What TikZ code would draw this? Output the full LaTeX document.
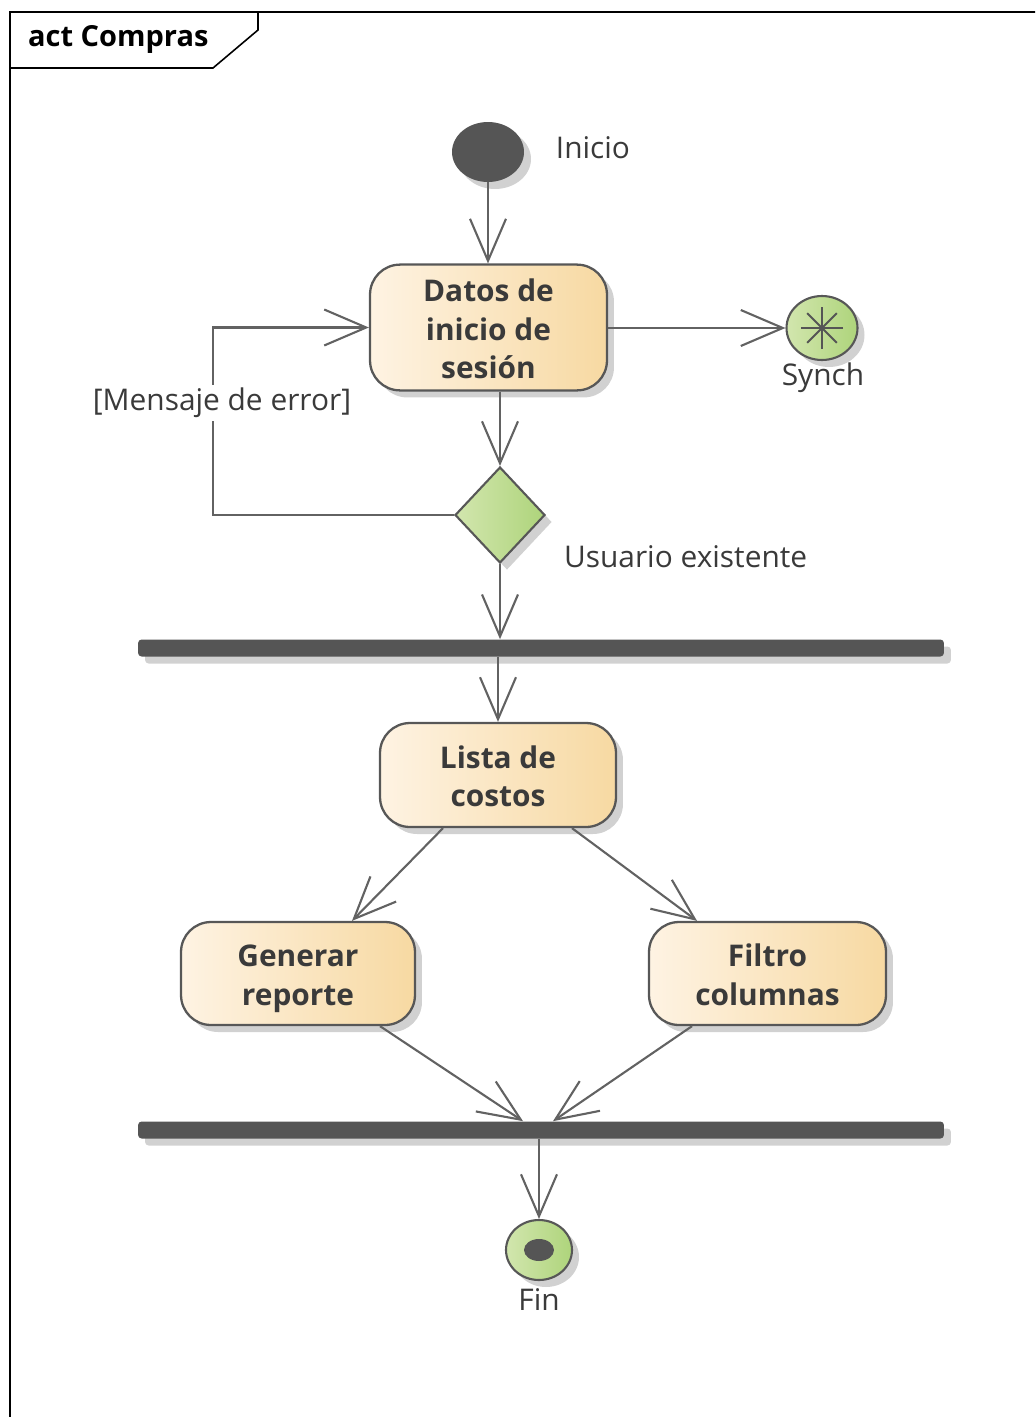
\documentclass[tikz,border=0pt]{standalone}
\usepackage{fontspec}
\setmainfont{Open Sans}
\usetikzlibrary{arrows.meta,shapes.geometric,shadows,positioning}

\definecolor{linegray}{HTML}{626262}
\definecolor{edgegray}{HTML}{575757}
\definecolor{bargray}{HTML}{555555}
\definecolor{textgray}{HTML}{3A3A3A}
\definecolor{actleft}{HTML}{FEF3E3}
\definecolor{actright}{HTML}{F7D9A2}
\definecolor{nodeleft}{HTML}{D2E6AE}
\definecolor{noderight}{HTML}{AED47B}

% taller first line, so the text sits a bit low in the box
\newcommand{\lineaalta}{\rule{0pt}{21pt}}

\tikzset{
  flow/.style={draw=linegray,line width=1.2pt,-{Straight Barb[length=0.84cm,width=0.72cm]}},
  softshadow/.style={drop shadow={shadow xshift=0.14cm,shadow yshift=-0.14cm,opacity=0.18,fill=black}},
  action/.style={draw=edgegray,line width=1.3pt,rounded corners=0.6cm,left color=actleft,right color=actright,
    softshadow,align=center,inner sep=0pt,font=\fontsize{17}{22}\selectfont\bfseries,text=textgray},
  syncbar/.style={fill=bargray,rounded corners=2pt,minimum width=16.12cm,minimum height=0.34cm,inner sep=0pt,softshadow},
  greennode/.style={ellipse,draw=edgegray,line width=1.2pt,left color=nodeleft,right color=noderight,inner sep=0pt,softshadow},
  txt/.style={font=\fontsize{17}{20}\selectfont,text=textgray,inner sep=1pt}
}

\begin{document}
\begin{tikzpicture}[x=0.02cm,y=-0.02cm]
    \useasboundingbox (0,0) rectangle (1035,1417);
    \clip (0,0) rectangle (1035,1417);

    % frame and its name tab
    \draw [black,line width=0.9pt] (10,1440)--(10,12)--(1050,12);
    \draw [black,line width=0.9pt] (10,68)--(213,68)--(258,30)--(258,12);
    \node [font=\fontsize{16.5}{20}\selectfont\bfseries,anchor=west] (titulo) at (22,39) {act Compras};

    % start, actions and the decision
    \node [ellipse,fill=bargray,minimum width=1.44cm,minimum height=1.2cm,inner sep=0pt,softshadow] (inicio) at (488,152) {};
    \node [txt] (inicioTxt) at (593,148) {Inicio};
    \node [action,minimum width=4.74cm,minimum height=2.5cm] (datos) at (488.5,327.5) {\lineaalta Datos de\\inicio de\\sesión\strut};
    \node [greennode,minimum width=1.42cm,minimum height=1.28cm] (synch) at (822,328) {};
    \foreach \a in {0,45,90,135}
        \draw [bargray,line width=1.1pt] ([shift={(\a:0.42cm)}]synch.center)--([shift={(\a+180:0.42cm)}]synch.center);
    \node [txt] (synchTxt) at (823,378) {Synch};
    \node [diamond,draw=edgegray,line width=1.2pt,left color=nodeleft,right color=noderight,
        minimum width=1.8cm,minimum height=1.92cm,inner sep=0pt,softshadow] (dec) at (500,515) {};
    \node [txt,anchor=west] (existe) at (562,557) {Usuario existente};

    % fork, the three actions and the join
    \node [syncbar] (fork) at (541,648) {};
    \node [action,minimum width=4.72cm,minimum height=2.08cm] (lista) at (498,775) {\lineaalta Lista de\\costos\strut};
    \node [action,minimum width=4.68cm,minimum height=2.06cm] (generar) at (298,973.5) {\lineaalta Generar\\reporte\strut};
    \node [action,minimum width=4.74cm,minimum height=2.06cm] (filtro) at (767.5,973.5) {\lineaalta Filtro\\columnas\strut};
    \node [syncbar] (join) at (541,1130) {};

    % final node
    \node [greennode,minimum width=1.32cm,minimum height=1.2cm] (fin) at (539,1250) {};
    \node [ellipse,fill=bargray,minimum width=0.6cm,minimum height=0.44cm,inner sep=0pt] (finDot) at (fin.center) {};
    \node [txt] (finTxt) at (539,1300) {Fin};

    % connectors
    \draw [flow] (inicio.south)--(datos.north -| inicio.south);
    \draw [flow] (datos.east |- synch.west)--(synch.west);
    \draw [flow] (datos.south -| dec.north)--(dec.north);
    \coordinate (vuelta) at (213,515);
    \draw [flow] (dec.west)--(vuelta) |- (datos.west);
    \node [txt,fill=white,inner sep=2pt] (error) at (222,403) {[Mensaje de error]};
    \draw [flow] (dec.south)--(dec.south |- fork.north);
    \draw [flow] (lista.north |- fork.south)--(lista.north);
    \draw [flow] ([xshift=-1.1cm]lista.south)--([xshift=1.08cm]generar.north);
    \draw [flow] ([xshift=1.48cm]lista.south)--([xshift=-1.41cm]filtro.north);
    \draw [flow] ([xshift=1.64cm]generar.south)--([xshift=-0.36cm]join.north);
    \draw [flow] ([xshift=-1.51cm]filtro.south)--([xshift=0.24cm]join.north);
    \draw [flow] (join.south -| fin.north)--(fin.north);
\end{tikzpicture}
\end{document}
